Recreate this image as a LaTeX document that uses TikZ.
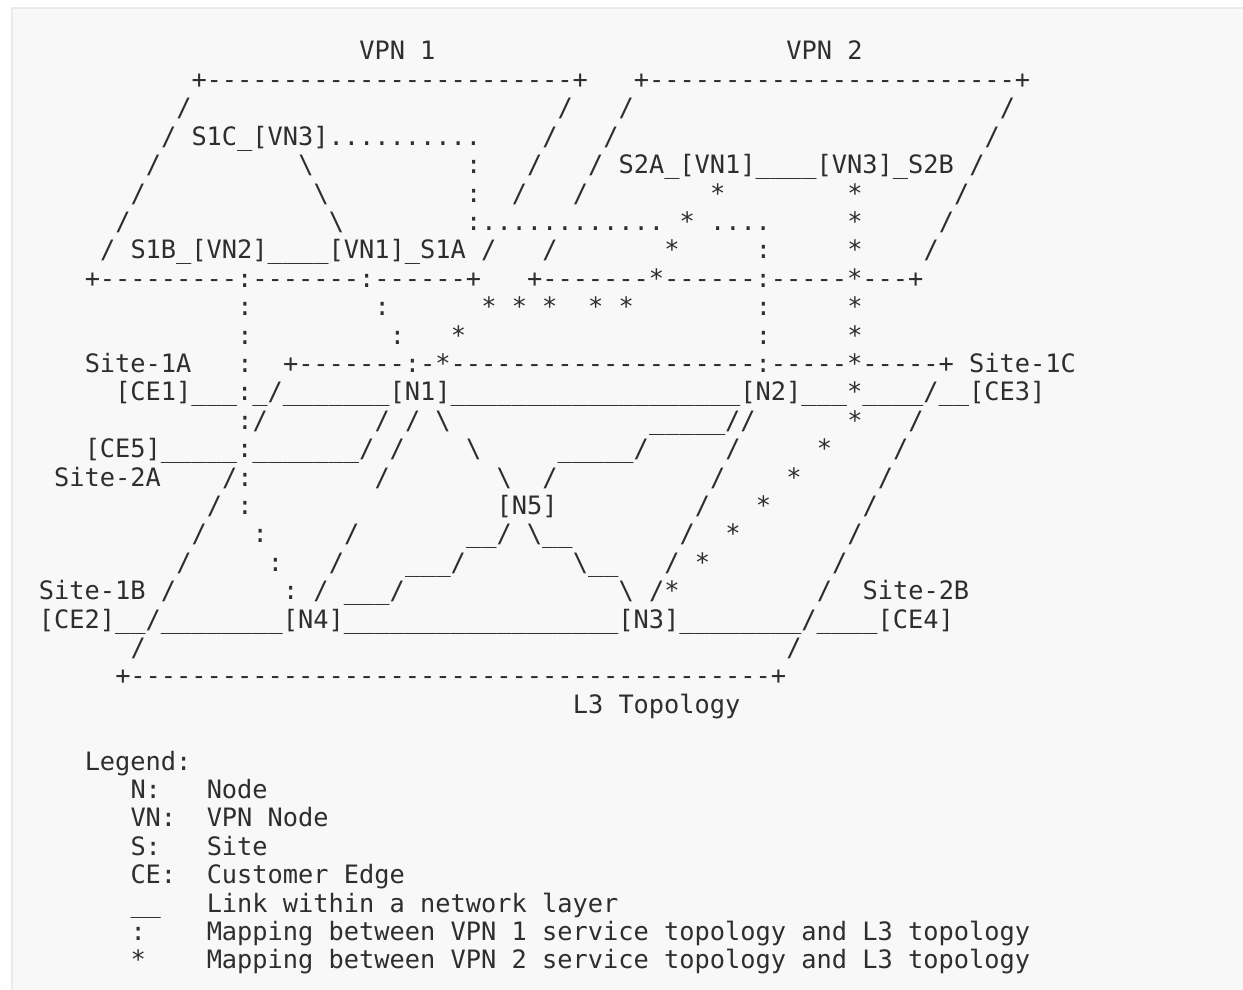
\documentclass[tikz,border=0pt]{standalone}
\usepackage{fontspec}
\setmonofont{DejaVu Sans Mono}
\usetikzlibrary{positioning}

\definecolor{page}{HTML}{F8F8F8}
\definecolor{rim}{HTML}{EAEAEA}
\definecolor{ink}{HTML}{2E2E2E}

\tikzset{
  art/.style={anchor=base west,inner sep=0pt,outer sep=0pt,text=ink,
    font=\fontsize{25.33pt}{28.4pt}\selectfont\ttfamily},
}

\begin{document}
\begin{tikzpicture}[x=15.25pt,y=-28.4pt]
  % page and code box
  \useasboundingbox (-39pt,60pt) rectangle (1204pt,-930pt);
  \fill[page] (-27pt,52pt) rectangle (1204pt,-930pt);
  \draw[rim,line width=1.5pt] (-27pt,-930pt) -- (-27pt,52pt) -- (1204pt,52pt);

  % service layer: VPN 1 and VPN 2
  \node[art] (vpn1) at (21,0) {VPN 1};
  \node[art] (vpn2) at (49,0) {VPN 2};
  \node[art] (v1top) at (10,1) {+------------------------+};
  \node[art] (v2top) at (39,1) {+------------------------+};
  \node[art] (r02a) at (9,2) {/};
  \node[art] (r02b) at (34,2) {/};
  \node[art] (r02c) at (38,2) {/};
  \node[art] (r02d) at (63,2) {/};
  \node[art] (r03a) at (8,3) {/};
  \node[art] (s1c) at (10,3) {S1C\_[VN3]..........};
  \node[art] (r03b) at (33,3) {/};
  \node[art] (r03c) at (37,3) {/};
  \node[art] (r03d) at (62,3) {/};
  \node[art] (r04a) at (7,4) {/};
  \node[art] (r04b) at (17,4) {\textbackslash};
  \node[art] (r04c) at (28,4) {:};
  \node[art] (r04d) at (32,4) {/};
  \node[art] (r04e) at (36,4) {/};
  \node[art] (s2a) at (38,4) {S2A\_[VN1]\_\_\_\_[VN3]\_S2B};
  \node[art] (r04f) at (61,4) {/};
  \node[art] (r05a) at (6,5) {/};
  \node[art] (r05b) at (18,5) {\textbackslash};
  \node[art] (r05c) at (28,5) {:};
  \node[art] (r05d) at (31,5) {/};
  \node[art] (r05e) at (35,5) {/};
  \node[art] (r05f) at (44,5) {*};
  \node[art] (r05g) at (53,5) {*};
  \node[art] (r05h) at (60,5) {/};
  \node[art] (r06a) at (5,6) {/};
  \node[art] (r06b) at (19,6) {\textbackslash};
  \node[art] (r06c) at (28,6) {:............};
  \node[art] (r06d) at (42,6) {* ....};
  \node[art] (r06e) at (53,6) {*};
  \node[art] (r06f) at (59,6) {/};
  \node[art] (r07a) at (4,7) {/};
  \node[art] (s1b) at (6,7) {S1B\_[VN2]\_\_\_\_[VN1]\_S1A /};
  \node[art] (r07b) at (33,7) {/};
  \node[art] (r07c) at (41,7) {*};
  \node[art] (r07d) at (47,7) {:};
  \node[art] (r07e) at (53,7) {*};
  \node[art] (r07f) at (58,7) {/};
  \node[art] (v1bot) at (3,8) {+---------:-------:------+};
  \node[art] (v2bot) at (32,8) {+-------*------:-----*---+};

  % mappings down to the L3 layer
  \node[art] (r09a) at (13,9) {:};
  \node[art] (r09b) at (22,9) {:};
  \node[art] (r09c) at (29,9) {* * *};
  \node[art] (r09d) at (36,9) {* *};
  \node[art] (r09e) at (47,9) {:};
  \node[art] (r09f) at (53,9) {*};
  \node[art] (r10a) at (13,10) {:};
  \node[art] (r10b) at (23,10) {:};
  \node[art] (r10c) at (27,10) {*};
  \node[art] (r10d) at (47,10) {:};
  \node[art] (r10e) at (53,10) {*};

  % L3 topology
  \node[art] (site1a) at (3,11) {Site-1A};
  \node[art] (r11a) at (13,11) {:};
  \node[art] (l3top) at (16,11) {+-------:-*--------------------:-----*-----+ Site-1C};
  \node[art] (ce1) at (5,12) {[CE1]\_\_\_:\_/\_\_\_\_\_\_\_[N1]\_\_\_\_\_\_\_\_\_\_\_\_\_\_\_\_\_\_\_[N2]\_\_\_*\_\_\_\_/\_\_[CE3]};
  \node[art] (r13a) at (13,13) {:/};
  \node[art] (r13b) at (22,13) {/ / \textbackslash};
  \node[art] (r13c) at (40,13) {\_\_\_\_\_//};
  \node[art] (r13d) at (53,13) {*};
  \node[art] (r13e) at (57,13) {/};
  \node[art] (ce5) at (3,14) {[CE5]\_\_\_\_\_:\_\_\_\_\_\_\_/ /};
  \node[art] (r14a) at (28,14) {\textbackslash};
  \node[art] (r14b) at (34,14) {\_\_\_\_\_/};
  \node[art] (r14c) at (45,14) {/};
  \node[art] (r14d) at (51,14) {*};
  \node[art] (r14e) at (56,14) {/};
  \node[art] (site2a) at (1,15) {Site-2A};
  \node[art] (r15a) at (12,15) {/:};
  \node[art] (r15b) at (22,15) {/};
  \node[art] (r15c) at (30,15) {\textbackslash};
  \node[art] (r15d) at (33,15) {/};
  \node[art] (r15e) at (44,15) {/};
  \node[art] (r15f) at (49,15) {*};
  \node[art] (r15g) at (55,15) {/};
  \node[art] (r16a) at (11,16) {/};
  \node[art] (r16b) at (13,16) {:};
  \node[art] (n5) at (30,16) {[N5]};
  \node[art] (r16c) at (43,16) {/};
  \node[art] (r16d) at (47,16) {*};
  \node[art] (r16e) at (54,16) {/};
  \node[art] (r17a) at (10,17) {/};
  \node[art] (r17b) at (14,17) {:};
  \node[art] (r17c) at (20,17) {/};
  \node[art] (r17d) at (28,17) {\_\_/ \textbackslash\_\_};
  \node[art] (r17e) at (42,17) {/};
  \node[art] (r17f) at (45,17) {*};
  \node[art] (r17g) at (53,17) {/};
  \node[art] (r18a) at (9,18) {/};
  \node[art] (r18b) at (15,18) {:};
  \node[art] (r18c) at (19,18) {/};
  \node[art] (r18d) at (24,18) {\_\_\_/};
  \node[art] (r18e) at (35,18) {\textbackslash\_\_};
  \node[art] (r18f) at (41,18) {/};
  \node[art] (r18g) at (43,18) {*};
  \node[art] (r18h) at (52,18) {/};
  \node[art] (site1b) at (0,19) {Site-1B /};
  \node[art] (r19a) at (16,19) {: / \_\_\_/};
  \node[art] (r19b) at (38,19) {\textbackslash{} /*};
  \node[art] (r19c) at (51,19) {/};
  \node[art] (site2b) at (54,19) {Site-2B};
  \node[art] (ce2) at (0,20) {[CE2]\_\_/\_\_\_\_\_\_\_\_[N4]\_\_\_\_\_\_\_\_\_\_\_\_\_\_\_\_\_\_[N3]\_\_\_\_\_\_\_\_/\_\_\_\_[CE4]};
  \node[art] (r21a) at (6,21) {/};
  \node[art] (r21b) at (49,21) {/};
  \node[art] (l3bot) at (5,22) {+------------------------------------------+};
  \node[art] (l3) at (35,23) {L3 Topology};

  % legend
  \node[art] (leg) at (3,25) {Legend:};
  \node[art] (k1) at (6,26) {N:};
  \node[art] (t1) at (11,26) {Node};
  \node[art] (k2) at (6,27) {VN:};
  \node[art] (t2) at (11,27) {VPN Node};
  \node[art] (k3) at (6,28) {S:};
  \node[art] (t3) at (11,28) {Site};
  \node[art] (k4) at (6,29) {CE:};
  \node[art] (t4) at (11,29) {Customer Edge};
  \node[art] (k5) at (6,30) {\_\_};
  \node[art] (t5) at (11,30) {Link within a network layer};
  \node[art] (k6) at (6,31) {:};
  \node[art] (t6) at (11,31) {Mapping between VPN 1 service topology and L3 topology};
  \node[art] (k7) at (6,32) {*};
  \node[art] (t7) at (11,32) {Mapping between VPN 2 service topology and L3 topology};
\end{tikzpicture}
\end{document}
